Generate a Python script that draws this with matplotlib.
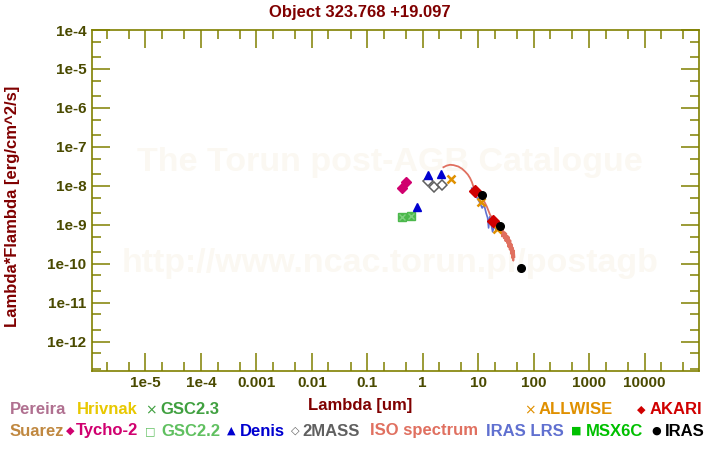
import matplotlib
matplotlib.use('Agg')
import matplotlib.pyplot as plt
from matplotlib.ticker import LogLocator, FixedFormatter, FixedLocator, NullFormatter

# photometry (wavelength in um, lambda*F_lambda in erg/cm^2/s)
tycho_lam = [0.42, 0.50]
tycho_flux = [8.7e-9, 1.24e-8]
gsc22_lam = [0.43, 0.62]
gsc22_flux = [1.57e-9, 1.65e-9]
denis_lam = [0.80, 1.26, 2.14]
denis_flux = [2.94e-9, 1.92e-8, 2.0e-8]
tmass_lam = [1.23, 1.60, 2.20]
tmass_flux = [1.35e-8, 9.6e-9, 1.06e-8]
allwise_lam = [3.24, 11.3, 22.2]
allwise_flux = [1.49e-8, 3.8e-9, 7.9e-10]
akari_lam = [8.9, 18.4]
akari_flux = [7.3e-9, 1.28e-9]
iras_lam = [11.9, 25.2, 60.2]
iras_flux = [5.9e-9, 9.4e-10, 7.7e-11]

# ISO SWS spectrum
iso_lam = [2.36, 2.7, 3.11, 3.6, 4.39, 5.1, 5.80, 6.5, 7.14, 7.7, 8.19, 9.0, 10.1, 11.2,
           12.4, 13.3, 14.3, 15.3, 16.4, 18.2, 20.2, 22.0, 24.0, 26.0, 27.0, 28.0, 29.0,
           30.0, 31.0, 32.0, 33.0, 34.0, 35.0, 36.0, 37.0, 38.0, 39.0, 40.0, 41.0, 42.0,
           43.0, 44.0, 45.0]
iso_flux = [3.0e-8, 3.3e-8, 3.47e-8, 3.4e-8, 3.13e-8, 2.75e-8, 2.33e-8, 1.95e-8, 1.58e-8,
            1.25e-8, 9.6e-9, 8.0e-9, 6.5e-9, 5.3e-9, 4.36e-9, 3.6e-9, 2.94e-9, 2.3e-9,
            1.80e-9, 1.45e-9, 1.10e-9, 9.5e-10, 8.0e-10, 7.4e-10, 5.0e-10, 8.0e-10, 4.5e-10,
            6.5e-10, 3.8e-10, 6.0e-10, 3.4e-10, 5.2e-10, 2.7e-10, 4.8e-10, 2.3e-10, 4.0e-10,
            1.8e-10, 3.2e-10, 1.4e-10, 2.6e-10, 1.2e-10, 2.2e-10, 1.5e-10]

# IRAS LRS spectrum
lrs_lam = [7.66, 8.2, 8.79, 9.67, 10.8, 11.8, 12.8, 13.9, 14.8, 15.4, 16.1, 17.1, 18.2, 19.4, 21.0]
lrs_flux = [8.7e-9, 7.0e-9, 5.9e-9, 4.8e-9, 3.6e-9, 2.7e-9, 3.2e-9, 2.0e-9, 1.5e-9, 8.3e-10,
            1.6e-9, 1.05e-9, 6.6e-10, 9.4e-10, 7.4e-10]

xticks = [1e-5, 1e-4, 1e-3, 1e-2, 1e-1, 1, 10, 100, 1000, 10000]
xticklabels = ['1e-5', '1e-4', '0.001', '0.01', '0.1', '1', '10', '100', '1000', '10000']
yticks = [1e-12, 1e-11, 1e-10, 1e-9, 1e-8, 1e-7, 1e-6, 1e-5, 1e-4]
yticklabels = ['1e-12', '1e-11', '1e-10', '1e-9', '1e-8', '1e-7', '1e-6', '1e-5', '1e-4']

FONT = 'Liberation Sans'
OLIVE = '#808000'
TICKC = '#4a4a00'
DARKRED = '#800000'
MARK = '#fbf8f2'

fig = plt.figure(figsize=(7.2, 4.5), dpi=100)
ax = fig.add_axes([92 / 720, 1 - 370.7 / 450, (699.3 - 92) / 720, (370.7 - 30) / 450])
ax.set_xscale('log')
ax.set_yscale('log')
ax.set_xlim(10 ** -5.962, 10 ** 4.986)
ax.set_ylim(10 ** -12.745, 1e-4)

# watermark
ax.text(0.49, 0.61, 'The Torun post-AGB Catalogue', transform=ax.transAxes, ha='center',
        va='center', fontsize=24.5, fontweight='bold', family=FONT, color=MARK, zorder=0)
ax.text(0.49, 0.315, 'http://www.ncac.torun.pl/postagb', transform=ax.transAxes, ha='center',
        va='center', fontsize=24.5, fontweight='bold', family=FONT, color=MARK, zorder=0)

ax.plot(iso_lam, iso_flux, color='#e07060', lw=1.3, zorder=2)
ax.plot(lrs_lam, lrs_flux, color='#6070d0', lw=1.2, zorder=3)

ax.plot(gsc22_lam, gsc22_flux, 's', color='#4cb84c', ms=5.5, zorder=4)
ax.plot(gsc22_lam, gsc22_flux, 'x', color='#80d080', ms=4, mew=1, zorder=4)
ax.plot(tycho_lam, tycho_flux, 'D', color='#d0006f', ms=5.5, zorder=4)
ax.plot(tmass_lam, tmass_flux, 'D', mfc='none', mec='#606060', ms=5, mew=1.1, zorder=4)
ax.plot(denis_lam, denis_flux, '^', color='#0000d0', ms=6, zorder=4)
ax.plot(allwise_lam, allwise_flux, 'x', color='#e09000', ms=6, mew=1.8, zorder=5)
ax.plot(akari_lam, akari_flux, 'D', color='#d00000', ms=6, zorder=5)
ax.plot(iras_lam, iras_flux, 'o', color='black', ms=5.5, zorder=6)

for s in ax.spines.values():
    s.set_color(OLIVE)
    s.set_linewidth(1.2)

ax.xaxis.set_major_locator(FixedLocator(xticks))
ax.xaxis.set_major_formatter(FixedFormatter(xticklabels))
ax.yaxis.set_major_locator(FixedLocator(yticks))
ax.yaxis.set_major_formatter(FixedFormatter(yticklabels))
for a in (ax.xaxis, ax.yaxis):
    a.set_minor_locator(LogLocator(base=10, subs=(2.0, 5.0), numticks=30))
    a.set_minor_formatter(NullFormatter())
ax.tick_params(which='both', direction='in', top=True, right=True, color=OLIVE, width=1.1)
ax.tick_params(which='major', length=13, pad=4, labelcolor=TICKC, labelsize=11)
ax.tick_params(which='minor', length=6.5)
for lab in ax.get_xticklabels() + ax.get_yticklabels():
    lab.set_fontfamily(FONT)
    lab.set_fontweight('bold')

# title and axis labels are centred on the figure, not on the axes
xc = (360 - 92) / 607.3
ax.set_title('Object 323.768 +19.097', color=DARKRED, fontsize=12, fontweight='bold',
             family=FONT, pad=9, x=xc)
ax.set_xlabel('Lambda [um]', color=DARKRED, fontsize=12, fontweight='bold', family=FONT)
ax.xaxis.set_label_coords(xc, -(398 - 370.7) / 340.7)
ax.set_ylabel('Lambda*Flambda [erg/cm^2/s]', color=DARKRED, fontsize=12, fontweight='bold',
              family=FONT)
ax.yaxis.set_label_coords(-(92 - 20) / 607.3, 1 - (206 - 30) / 340.7)

# legend drawn as coloured text, two rows
def lab(x, y, s, c):
    fig.text(x / 720, 1 - y / 450, s, color=c, fontsize=12, fontweight='bold', family=FONT,
             ha='left', va='center')

def sym(x, y, s, c, size=8):
    fig.text(x / 720, 1 - y / 450, s, color=c, fontsize=size, family='DejaVu Sans',
             ha='center', va='center')

r1, r2 = 410, 431
lab(10, r1, 'Pereira', '#b07090')
lab(77, r1, 'Hrivnak', '#e8c800')
sym(151, r1, '\u00d7', '#40a040', 10)
lab(160, r1, 'GSC2.3', '#40a040')
sym(530, r1, '\u00d7', '#e09000', 10)
lab(539, r1, 'ALLWISE', '#e09000')
sym(641, r1, '\u25c6', '#d00000')
lab(650, r1, 'AKARI', '#d00000')

lab(10, r2, 'Suarez', '#c08840')
sym(70, r2, '\u25c6', '#d0006f')
lab(76, r2, 'Tycho-2', '#d0006f')
sym(150, r2, '\u25a1', '#60c060')
lab(161, r2, 'GSC2.2', '#60c060')
sym(231, r2, '\u25b2', '#0000d0')
lab(240, r2, 'Denis', '#0000d0')
sym(295, r2, '\u25c7', '#606060')
lab(302, r2, '2MASS', '#606060')
lab(370, r2, 'ISO spectrum', '#e07060')
lab(486, r2, 'IRAS LRS', '#6070d0')
sym(576, r2, '\u25a0', '#00c000')
lab(586, r2, 'MSX6C', '#00c000')
sym(656, r2, '\u25cf', 'black')
lab(665, r2, 'IRAS', 'black')

fig.savefig('out.png', dpi=100)
